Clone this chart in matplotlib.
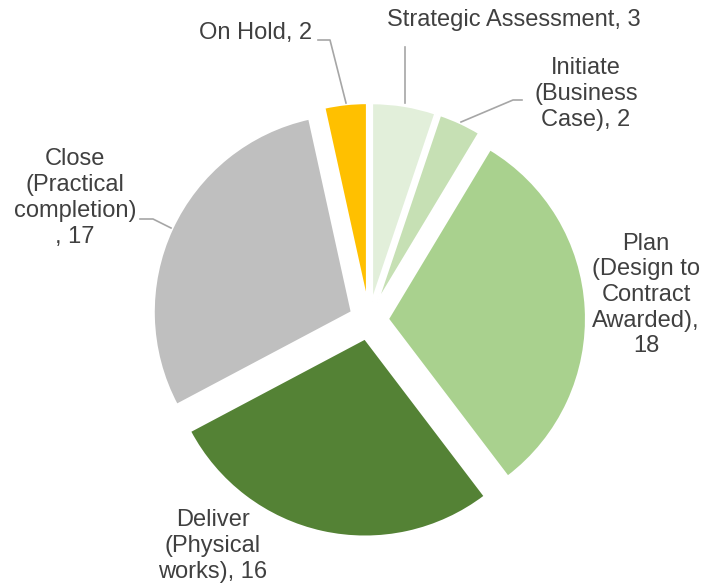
import numpy as np
import matplotlib.pyplot as plt

plt.rcParams['font.family'] = ['Liberation Sans', 'DejaVu Sans']

stages = ['Strategic Assessment', 'Initiate\n(Business\nCase)', 'Plan\n(Design to\nContract\nAwarded)',
          'Deliver\n(Physical\nworks)', 'Close\n(Practical\ncompletion)\n', 'On Hold']
counts = [3, 2, 18, 16, 17, 2]
colors = ['#E2EFDA', '#C6E0B4', '#A9D18E', '#548235', '#BFBFBF', '#FFC000']

# label layout in pixel coords (x, y from top)
label_pos = [(514, 20), (586, 94), (646, 295), (213, 546), (75, 198), (256, 33)]
label_sep = [', ', ', ', ',\n', ', ', ', ', ', ']

W, H = 703, 587
CX, CY = 369, 320
R = 198
GAP = 19  # explode distance, pixels (pie does not scale explode by radius)

fig = plt.figure(figsize=(W / 100, H / 100), dpi=100)
ax = fig.add_axes([0, 0, 1, 1])

ax.pie(counts, colors=colors, startangle=90, counterclock=False,
       center=(CX, -CY), radius=R, explode=[GAP] * len(counts),
       wedgeprops=dict(edgecolor='white', linewidth=1.5))

ax.set_xlim(0, W)
ax.set_ylim(-H, 0)
ax.set_aspect('equal')
ax.axis('off')

for name, n, sep, (x, y) in zip(stages, counts, label_sep, label_pos):
    ax.text(x, -y, f'{name}{sep}{n}', ha='center', va='center', fontsize=17,
            color='#404040', linespacing=1.22)

# leader lines (pixel coords)
leaders = [
    [(405, 47), (405, 103)],
    [(522, 100), (513, 100), (461, 122)],
    [(318, 40), (330, 40), (346, 103)],
    [(140, 219), (153, 219), (171, 228)],
]
for pts in leaders:
    xs, ys = zip(*pts)
    ax.plot(xs, [-v for v in ys], color='#A6A6A6', linewidth=1.2)

fig.savefig('out.png', dpi=100)
